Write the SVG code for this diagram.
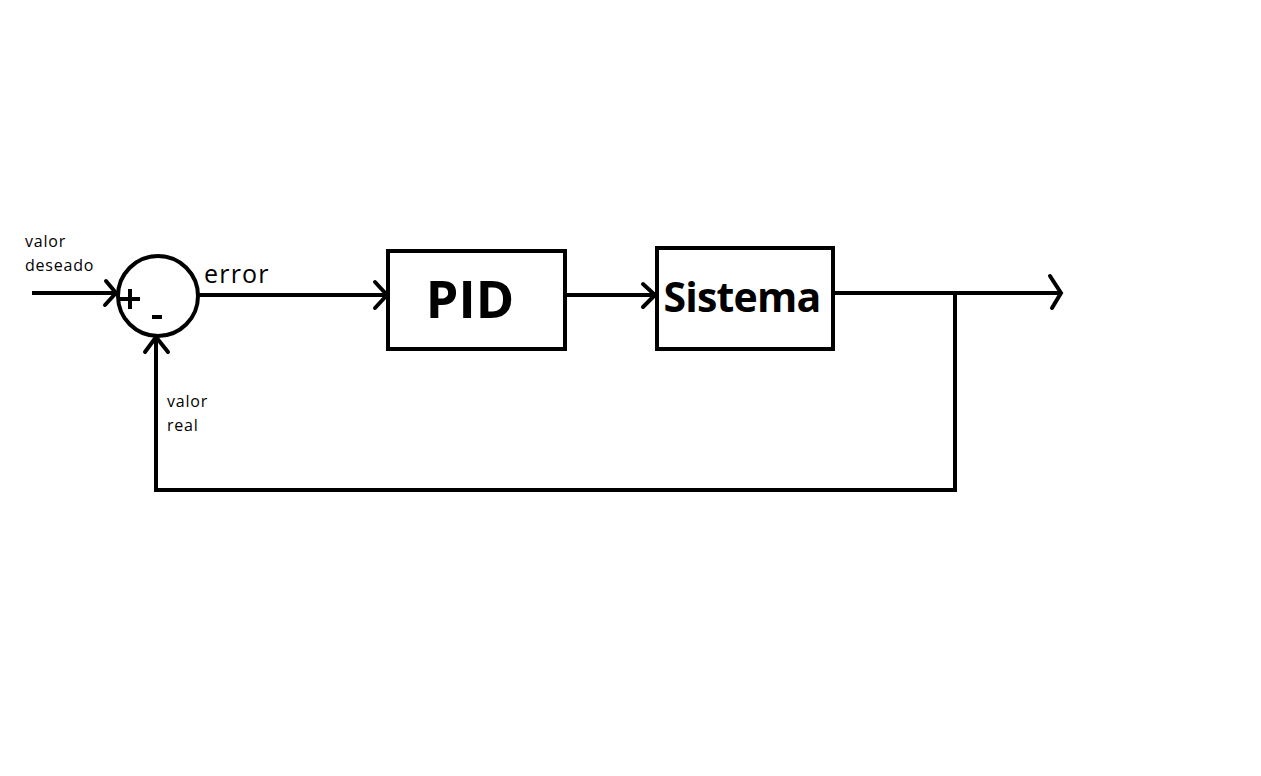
<svg xmlns="http://www.w3.org/2000/svg" width="1261" height="776" viewBox="0 0 1261 776">
<style>
.ln{fill:none;stroke:#000;stroke-width:4;stroke-linecap:square;stroke-linejoin:miter}
.ah{fill:none;stroke:#000;stroke-width:4;stroke-linecap:round;stroke-linejoin:miter}
.box{fill:#fff;stroke:#000;stroke-width:4}
.sm{font-family:"Open Sans","Liberation Sans",sans-serif;font-size:16px;fill:#000;letter-spacing:0.8px}
.err{font-family:"Open Sans","Liberation Sans",sans-serif;font-size:25px;fill:#000;letter-spacing:1.2px}
.big{font-family:"Open Sans","Liberation Sans",sans-serif;font-weight:bold;fill:#000}
</style>
<rect width="1261" height="776" fill="#fff"/>
<g id="connectors">
<path class="ln" d="M34 293 H115"/>
<path class="ah" d="M106 281 L116 293 L105 305"/>
<path class="ln" d="M199 295 H386"/>
<path class="ah" d="M375 282 L387 295 L375 308"/>
<path class="ln" d="M565 295 H655"/>
<path class="ah" d="M643 284 L655 295 L643 307"/>
<path class="ln" d="M833 293 H1060"/>
<path class="ah" d="M1050 276 L1061 293 L1052 308"/>
<path class="ln" d="M955 293 V490 H156 V337"/>
<path class="ah" d="M145 352 L156 337 L168 352"/>
</g>
<g id="sum">
<circle cx="158" cy="296" r="40" fill="none" stroke="#000" stroke-width="4"/>
<rect x="120" y="297" width="20" height="4" fill="#000"/>
<rect x="128" y="289" width="4" height="20" fill="#000"/>
<rect x="152" y="315" width="10" height="4" fill="#000"/>
</g>
<g id="pid">
<rect class="box" x="388" y="251" width="177" height="98"/>
<text class="big" x="470" y="318" font-size="52" text-anchor="middle">PID</text>
</g>
<g id="sistema">
<rect class="box" x="657" y="248" width="176" height="101"/>
<text class="big" x="742" y="312" font-size="41" letter-spacing="-0.8" text-anchor="middle">Sistema</text>
</g>
<g id="labels">
<text class="sm" x="25" y="247">valor</text>
<text class="sm" x="25" y="271">deseado</text>
<text class="sm" x="167" y="407">valor</text>
<text class="sm" x="167" y="431">real</text>
<text class="err" x="204" y="283">error</text>
</g>
</svg>
